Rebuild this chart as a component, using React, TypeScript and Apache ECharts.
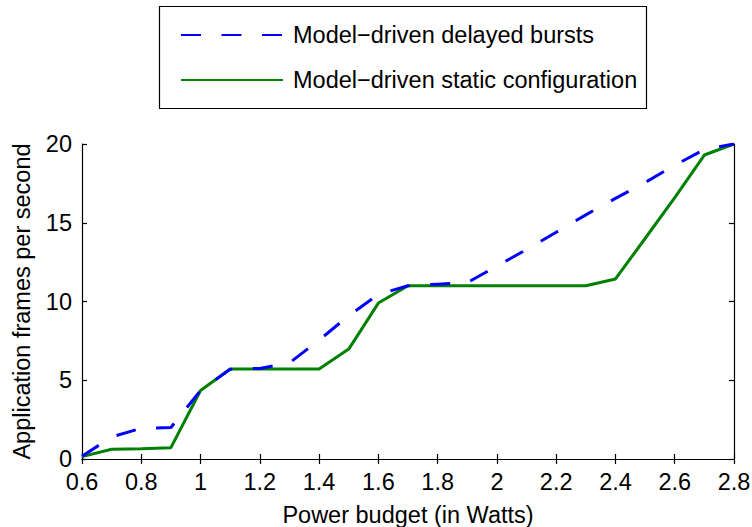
import React, { useEffect, useRef } from "react";
import * as echarts from "echarts";

const xValues = [0.6, 0.7, 0.8, 0.9, 1.0, 1.1, 1.2, 1.3, 1.4, 1.5, 1.6, 1.7, 1.8, 1.9, 2.0, 2.1, 2.2, 2.3, 2.4, 2.5, 2.6, 2.7, 2.8];
const delayedBursts = [0.17, 1.4, 1.95, 2.0, 4.35, 5.7, 5.75, 6.1, 7.55, 9.1, 10.45, 11.0, 11.1, 11.2, 12.25, 13.3, 14.4, 15.5, 16.55, 17.55, 18.65, 19.65, 20.0];
const staticConfig = [0.15, 0.62, 0.65, 0.72, 4.35, 5.71, 5.71, 5.71, 5.71, 6.98, 9.9, 11.0, 11.0, 11.0, 11.0, 11.0, 11.0, 11.0, 11.43, 14.0, 16.6, 19.3, 20.0];
const seriesNames = ["Model\u2212driven delayed bursts", "Model\u2212driven static configuration"];
const xAxisTitle = "Power budget (in Watts)";
const yAxisTitle = "Application frames per second";

const FONT = "Liberation Sans, Arial, Helvetica, sans-serif";
const FS = 23.5;

export default function App() {
  const ref = useRef<HTMLDivElement>(null);
  useEffect(() => {
    if (!ref.current) return;
    const chart = echarts.init(ref.current, null, { renderer: "svg" });
    const axisLine = { show: true, lineStyle: { color: "#000", width: 1.2 } };
    const tick = { show: true, inside: true, length: 5, lineStyle: { color: "#000", width: 1.2 } };
    const fmt = (v: number) => String(Math.round(v * 10) / 10);
    chart.setOption({
      animation: false,
      backgroundColor: "#fff",
      textStyle: { fontFamily: FONT },
      grid: { left: 82, right: 18, top: 144, bottom: 68, containLabel: false, outerBoundsMode: "none" },
      legend: {
        orient: "vertical",
        left: 175,
        top: 18,
        itemWidth: 102,
        itemHeight: 24,
        itemGap: 21,
        itemStyle: { opacity: 0 },
        textStyle: { fontFamily: FONT, fontSize: FS, color: "#000", padding: [0, 0, 0, 5] },
        data: seriesNames,
      },
      graphic: [
        {
          type: "rect",
          shape: { x: 159.5, y: 6.5, width: 487, height: 102 },
          style: { fill: "none", stroke: "#000", lineWidth: 1.2 },
          z: 10,
        },
      ],
      xAxis: [
        {
          type: "value",
          min: 0.6,
          max: 2.8,
          interval: 0.2,
          name: xAxisTitle,
          nameLocation: "middle",
          nameGap: 44,
          nameTextStyle: { fontSize: FS, color: "#000", fontFamily: FONT },
          axisLine,
          axisTick: tick,
          splitLine: { show: false },
          axisLabel: { fontSize: FS, color: "#000", margin: 11, formatter: fmt, fontFamily: FONT },
        },
        {
          type: "value",
          position: "top",
          min: 0.6,
          max: 2.8,
          interval: 0.2,
          axisLine,
          axisTick: tick,
          splitLine: { show: false },
          axisLabel: { show: false },
        },
      ],
      yAxis: [
        {
          type: "value",
          min: 0,
          max: 20,
          interval: 5,
          name: yAxisTitle,
          nameLocation: "middle",
          nameGap: 48,
          nameTextStyle: { fontSize: FS, color: "#000", fontFamily: FONT },
          axisLine,
          axisTick: tick,
          splitLine: { show: false },
          axisLabel: { fontSize: FS, color: "#000", margin: 10, fontFamily: FONT },
        },
        {
          type: "value",
          position: "right",
          min: 0,
          max: 20,
          interval: 5,
          axisLine,
          axisTick: tick,
          splitLine: { show: false },
          axisLabel: { show: false },
        },
      ],
      series: [
        {
          name: seriesNames[0],
          type: "line",
          xAxisIndex: 0,
          yAxisIndex: 0,
          symbol: "none",
          data: xValues.map((x, i) => [x, delayedBursts[i]]),
          lineStyle: { color: "#0000ff", width: 3, type: [20, 20.5] },
          itemStyle: { color: "#0000ff" },
          z: 3,
        },
        {
          name: seriesNames[1],
          type: "line",
          xAxisIndex: 0,
          yAxisIndex: 0,
          symbol: "none",
          data: xValues.map((x, i) => [x, staticConfig[i]]),
          lineStyle: { color: "#008000", width: 3, type: "solid" },
          itemStyle: { color: "#008000" },
          z: 2,
        },
      ],
    });
    return () => chart.dispose();
  }, []);
  return <div ref={ref} style={{ width: 752, height: 527, position: "absolute", left: 0, top: 0 }} />;
}
